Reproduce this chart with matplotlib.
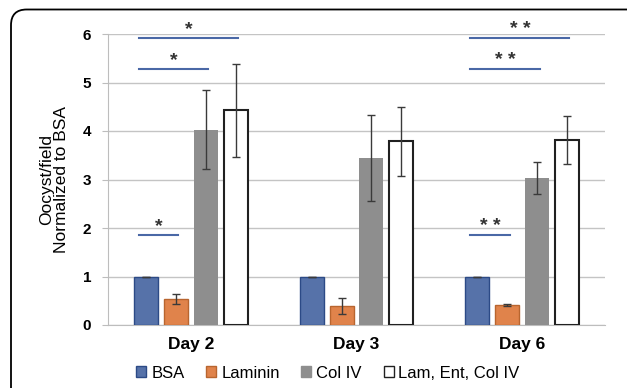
import matplotlib.pyplot as plt
from matplotlib.patches import FancyBboxPatch, Patch
import numpy as np

plt.rcParams['font.family'] = ['Liberation Sans', 'DejaVu Sans']

days = ['Day 2', 'Day 3', 'Day 6']
series = ['BSA', 'Laminin', 'Col IV', 'Lam, Ent, Col IV']
bsa = [1.0, 1.0, 1.0]
bsa_err = [0.0, 0.0, 0.0]
laminin = [0.53, 0.39, 0.42]
laminin_err = [0.10, 0.17, 0.02]
col_iv = [4.03, 3.44, 3.04]
col_iv_err = [0.82, 0.88, 0.33]
lec = [4.43, 3.79, 3.81]
lec_err = [0.96, 0.71, 0.49]

# (day index, compared series index, height, label)
sig = [(0, 3, 5.92, '*'), (0, 2, 5.28, '*'), (0, 1, 1.86, '*'),
       (2, 3, 5.92, '* *'), (2, 2, 5.28, '* *'), (2, 1, 1.86, '* *')]

fills = ['#5672a9', '#e0834b', '#8e8e8e', 'white']
edges = ['#2c4a86', '#b8652f', '#8e8e8e', '#202020']
edge_w = [1.0, 1.0, 0.0, 1.5]

fig = plt.figure(figsize=(6.27, 3.88), dpi=100)
ax = fig.add_axes([108 / 627, 63 / 388, 497 / 627, 291 / 388])

# rounded frame, only the top-left corner is visible
box = FancyBboxPatch((11 / 627, -0.2), 1.2, 1.2 - 9.5 / 388,
                     boxstyle='round,pad=0,rounding_size=0.025',
                     transform=fig.transFigure, fill=False,
                     edgecolor='black', linewidth=1.3, mutation_aspect=627 / 388)
fig.patches.append(box)

x = np.arange(len(days))
width = 0.145
step = 0.18
vals = [bsa, laminin, col_iv, lec]
errs = [bsa_err, laminin_err, col_iv_err, lec_err]
for i in range(4):
    pos = x + (i - 1.5) * step
    ax.bar(pos, vals[i], width, color=fills[i], edgecolor=edges[i],
           linewidth=edge_w[i], zorder=3)
    ax.errorbar(pos, vals[i], yerr=errs[i], fmt='none', ecolor='#3a3a3a',
                elinewidth=1.0, capsize=3, capthick=1.0, zorder=4)

for d, s, h, lab in sig:
    x0 = d + (0 - 1.5) * step - 0.042
    x1 = d + (s - 1.5) * step + 0.015
    ax.plot([x0, x1], [h, h], color='#4a68a6', linewidth=1.5, zorder=5)
    ax.annotate(lab, ((x0 + x1) / 2, h), xytext=(0, 0), textcoords='offset points',
                ha='center', va='bottom', fontsize=14, fontweight='bold',
                color='#333333', zorder=6)

ax.set_xlim(-0.5, 2.5)
ax.set_ylim(0, 6)
ax.set_yticks(range(7))
ax.set_xticks(x)
ax.set_xticklabels(days, fontsize=12.5, fontweight='bold')
ax.tick_params(axis='x', length=0, pad=9)
ax.tick_params(axis='y', length=4, color='#bdbdbd', labelsize=11, pad=8)
for t in ax.get_yticklabels():
    t.set_fontweight('bold')
ax.grid(axis='y', color='#c4c4c4', linewidth=1.0, zorder=0)
ax.set_axisbelow(True)
for sp in ['top', 'right']:
    ax.spines[sp].set_visible(False)
ax.spines['left'].set_color('#bdbdbd')
ax.spines['bottom'].set_color('#bdbdbd')
ax.set_ylabel('Oocyst/field\nNormalized to BSA', fontsize=12.5, labelpad=10,
              linespacing=1.0)

handles = [Patch(facecolor=fills[i], edgecolor=edges[i] if i != 2 else '#8e8e8e',
                 linewidth=1.0) for i in range(4)]
fig.legend(handles, series, loc='center', bbox_to_anchor=(328 / 627, 1 - 373 / 388),
           ncol=4, frameon=False, fontsize=12, handlelength=0.6, handleheight=0.6,
           handletextpad=0.3, columnspacing=1.3)

fig.savefig('out.png', dpi=100)
